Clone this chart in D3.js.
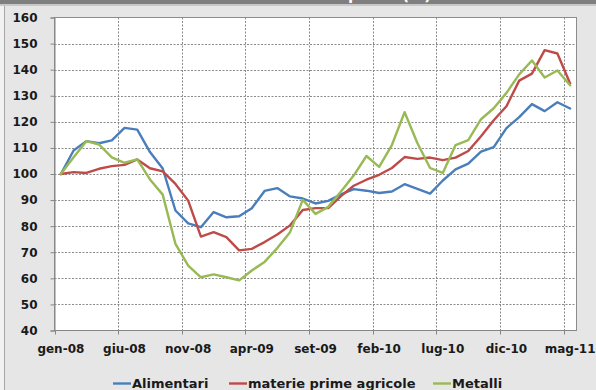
<!DOCTYPE html>
<html>
<head>
<meta charset="utf-8">
<script src="https://cdn.jsdelivr.net/npm/d3@7"></script>
<style>
  html, body { margin: 0; padding: 0; background: #e6e6e6; }
  svg { display: block; }
</style>
</head>
<body>
<svg id="chart" width="596" height="390"></svg>
<script>
// Monthly index, gen-08 = 100
const months = [
  "gen-08","feb-08","mar-08","apr-08","mag-08","giu-08","lug-08","ago-08","set-08","ott-08","nov-08","dic-08",
  "gen-09","feb-09","mar-09","apr-09","mag-09","giu-09","lug-09","ago-09","set-09","ott-09","nov-09","dic-09",
  "gen-10","feb-10","mar-10","apr-10","mag-10","giu-10","lug-10","ago-10","set-10","ott-10","nov-10","dic-10",
  "gen-11","feb-11","mar-11","apr-11","mag-11"
];
const alimentari = [
  100, 109.0, 112.6, 111.8, 112.9, 117.7, 117.0, 108.4, 102.1, 86.0, 81.1, 79.6,
  85.4, 83.4, 83.8, 86.9, 93.5, 94.6, 91.4, 90.6, 88.7, 89.7, 92.2, 94.2,
  93.6, 92.7, 93.3, 96.1, 94.3, 92.5, 97.5, 101.8, 104.0, 108.6, 110.3, 117.6,
  121.8, 126.8, 124.1, 127.5, 125.1
];
const agricole = [
  100, 100.7, 100.4, 102.0, 103.0, 103.5, 105.6, 102.2, 101.0, 96.2, 89.8, 76.0,
  77.7, 75.8, 70.7, 71.3, 73.9, 76.8, 80.3, 86.2, 86.9, 86.9, 91.5, 95.5,
  97.8, 99.7, 102.3, 106.5, 105.8, 106.3, 105.3, 106.3, 108.8, 114.5, 120.6, 126.0,
  135.8, 138.5, 147.5, 146.2, 134.7
];
const metalli = [
  100, 106.4, 112.6, 111.3, 106.4, 104.3, 105.6, 97.9, 92.1, 73.2, 64.9, 60.4,
  61.5, 60.4, 59.2, 63.0, 66.3, 71.6, 77.7, 90.1, 84.7, 87.4, 93.3, 99.4,
  106.9, 102.7, 111.1, 123.7, 111.9, 102.3, 100.4, 111.1, 113.0, 121.0, 125.2, 131.1,
  138.2, 143.5, 137.0, 139.7, 134.0
];
const xTickLabels = ["gen-08","giu-08","nov-08","apr-09","set-09","feb-10","lug-10","dic-10","mag-11"];
const yTicks = [40, 50, 60, 70, 80, 90, 100, 110, 120, 130, 140, 150, 160];
const seriesNames = ["Alimentari", "materie prime agricole", "Metalli"];
const seriesColors = ["#4a7ebb", "#be4b48", "#98b954"];
const title = "Prezzi delle materie prime (%)";

const series = [alimentari, agricole, metalli];

const svg = d3.select("#chart");
const W = 596, H = 390;
const plot = { left: 54.5, right: 576.5, top: 17.5, bottom: 330.5 };
const font = "'DejaVu Sans', Verdana, sans-serif";

// Panel background and window frame
svg.append("rect").attr("width", W).attr("height", H).attr("fill", "#e6e6e6");
svg.append("rect").attr("x", 0).attr("y", 0).attr("width", 4).attr("height", H).attr("fill", "#f2f2f2");
svg.append("line").attr("x1", 4.5).attr("x2", 4.5).attr("y1", 0).attr("y2", H)
  .attr("stroke", "#a6a6a6").attr("stroke-width", 1);
svg.append("rect").attr("x", 0).attr("y", 4).attr("width", W).attr("height", 2).attr("fill", "#c8c8c8");

// Title bar: the heading sits above the top edge, only its lowest strip is in view
svg.append("clipPath").attr("id", "barclip")
  .append("rect").attr("x", 0).attr("y", 0).attr("width", W).attr("height", 4);
const bar = svg.append("g").attr("clip-path", "url(#barclip)");
bar.append("rect").attr("x", 0).attr("y", 0).attr("width", W).attr("height", 4).attr("fill", "#7f7f7f");
bar.append("text").attr("x", 431).attr("y", 0.3).attr("text-anchor", "end")
  .attr("font-family", font).attr("font-weight", "bold").attr("font-size", 15)
  .attr("fill", "#ffffff").text(title);

// Scales
const x = d3.scaleBand().domain(months).range([plot.left, plot.right]).padding(0);
const y = d3.scaleLinear().domain([40, 160]).range([plot.bottom, plot.top]);
const cx = m => x(m) + x.bandwidth() / 2;

// Plot area
svg.append("rect")
  .attr("x", plot.left).attr("y", plot.top)
  .attr("width", plot.right - plot.left).attr("height", plot.bottom - plot.top)
  .attr("fill", "#ffffff").attr("stroke", "#8c8c8c").attr("stroke-width", 1);

// Gridlines
const grid = svg.append("g").attr("stroke", "#8a8a8a").attr("stroke-width", 1)
  .attr("stroke-dasharray", "2,1.5");
grid.selectAll("line.h").data(yTicks.filter(v => v > 40 && v < 160)).join("line")
  .attr("class", "h")
  .attr("x1", plot.left).attr("x2", plot.right)
  .attr("y1", d => Math.round(y(d)) + 0.5).attr("y2", d => Math.round(y(d)) + 0.5);
grid.selectAll("line.v").data(xTickLabels.slice(1)).join("line")
  .attr("class", "v")
  .attr("x1", d => Math.round(x(d)) + 0.5).attr("x2", d => Math.round(x(d)) + 0.5)
  .attr("y1", plot.top).attr("y2", plot.bottom);

// Y axis
const yAxis = svg.append("g").attr("transform", `translate(${plot.left},0)`)
  .call(d3.axisLeft(y).tickValues(yTicks).tickSize(4).tickPadding(13).tickFormat(d3.format("d")));
yAxis.select(".domain").attr("stroke", "#868686");
yAxis.selectAll(".tick line").attr("stroke", "#868686");
yAxis.selectAll(".tick text")
  .attr("font-family", font).attr("font-weight", "bold").attr("font-size", 12).attr("fill", "#1a1a1a");

// X axis: tick marks at category boundaries, labels centred on categories
const xAxis = svg.append("g");
xAxis.append("line").attr("x1", plot.left).attr("x2", plot.right)
  .attr("y1", plot.bottom).attr("y2", plot.bottom).attr("stroke", "#868686");
xAxis.selectAll("line.tick").data(xTickLabels).join("line")
  .attr("class", "tick")
  .attr("x1", d => Math.round(x(d)) + 0.5).attr("x2", d => Math.round(x(d)) + 0.5)
  .attr("y1", plot.bottom).attr("y2", plot.bottom + 4).attr("stroke", "#868686");
xAxis.selectAll("text").data(xTickLabels).join("text")
  .attr("x", d => cx(d)).attr("y", 353).attr("text-anchor", "middle")
  .attr("font-family", font).attr("font-weight", "bold").attr("font-size", 12).attr("fill", "#1a1a1a")
  .text(d => d);

// Series lines
const line = d3.line().x((d, i) => cx(months[i])).y(d => y(d));
svg.append("g").selectAll("path").data(series).join("path")
  .attr("d", d => line(d))
  .attr("fill", "none")
  .attr("stroke", (d, i) => seriesColors[i])
  .attr("stroke-width", 2.4)
  .attr("stroke-linejoin", "round")
  .attr("stroke-linecap", "round");

// Legend
const legendX = [113, 229, 433];
const legend = svg.append("g").selectAll("g").data(seriesNames).join("g")
  .attr("transform", (d, i) => `translate(${legendX[i]},0)`);
legend.append("line").attr("x1", 0).attr("x2", 18).attr("y1", 383.5).attr("y2", 383.5)
  .attr("stroke", (d, i) => seriesColors[i]).attr("stroke-width", 2.4);
legend.append("text").attr("x", 19).attr("y", 388)
  .attr("font-family", font).attr("font-weight", "bold").attr("font-size", 13).attr("fill", "#1a1a1a")
  .text(d => d);
</script>
</body>
</html>
